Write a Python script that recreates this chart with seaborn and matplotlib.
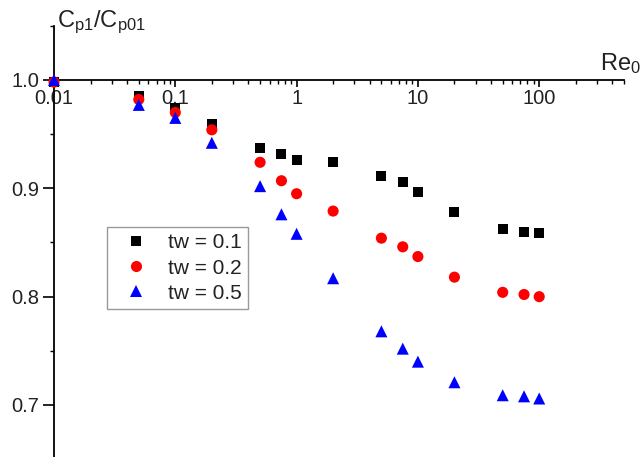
import numpy as np
import pandas as pd
import matplotlib
matplotlib.use("Agg")
import matplotlib.pyplot as plt
import seaborn as sns
from matplotlib.lines import Line2D
from matplotlib.ticker import FixedLocator, FuncFormatter, MultipleLocator

# Reynolds numbers and pressure-coefficient ratios for three wall thicknesses
re0 = [0.01, 0.05, 0.1, 0.2, 0.5, 0.75, 1, 2, 5, 7.5, 10, 20, 50, 75, 100]
cp_tw01 = [0.998, 0.985, 0.974, 0.959, 0.937, 0.932, 0.926, 0.924,
           0.911, 0.906, 0.897, 0.878, 0.862, 0.860, 0.859]
cp_tw02 = [0.998, 0.982, 0.970, 0.954, 0.924, 0.907, 0.895, 0.879,
           0.854, 0.846, 0.837, 0.818, 0.804, 0.802, 0.800]
cp_tw05 = [1.000, 0.977, 0.965, 0.942, 0.902, 0.876, 0.858, 0.817,
           0.768, 0.752, 0.740, 0.721, 0.709, 0.708, 0.706]
series_labels = ["tw = 0.1", "tw = 0.2", "tw = 0.5"]
x_tick_values = [0.01, 0.1, 1, 10, 100]
y_tick_values = [0.7, 0.8, 0.9, 1.0]

colors = {"tw = 0.1": "#000000", "tw = 0.2": "#ff0000", "tw = 0.5": "#0000ff"}
markers = {"tw = 0.1": "s", "tw = 0.2": "o", "tw = 0.5": "^"}
sizes = {"tw = 0.1": 52, "tw = 0.2": 64, "tw = 0.5": 75}

df = pd.concat([
    pd.DataFrame({"Re0": re0, "ratio": vals, "series": lab})
    for vals, lab in zip([cp_tw01, cp_tw02, cp_tw05], series_labels)
], ignore_index=True)

sns.set_theme(style="white")
plt.rcParams["font.family"] = ["Liberation Sans", "DejaVu Sans"]
plt.rcParams["mathtext.fontset"] = "custom"
plt.rcParams["mathtext.rm"] = "Liberation Sans"
plt.rcParams["mathtext.it"] = "Liberation Sans"

text_color = "#222222"

fig = plt.figure(figsize=(6.42, 4.57), dpi=100)
ax = fig.add_axes([54 / 642, 0.0, 570 / 642, 1 - 25.8 / 457])

sns.scatterplot(data=df, x="Re0", y="ratio", hue="series", style="series",
                size="series", palette=colors, markers=markers, sizes=sizes,
                linewidth=0, legend=False, clip_on=False, zorder=3, ax=ax)

ax.set_xscale("log")
ax.set_xlim(0.01, 500)
ax.set_ylim(0.652, 1.05)
ax.set_xlabel("")
ax.set_ylabel("")

# Axis line for Re0 runs through ratio = 1.0
for side in ("top", "right"):
    ax.spines[side].set_visible(False)
ax.spines["bottom"].set_position(("data", 1.0))
for side in ("bottom", "left"):
    ax.spines[side].set_color("black")
    ax.spines[side].set_linewidth(1.3)

ax.xaxis.set_major_locator(FixedLocator(x_tick_values))
ax.xaxis.set_major_formatter(FuncFormatter(lambda v, p: f"{v:g}"))
ax.yaxis.set_major_locator(FixedLocator(y_tick_values))
ax.yaxis.set_minor_locator(MultipleLocator(0.05))
ax.yaxis.set_major_formatter(FuncFormatter(lambda v, p: f"{v:.1f}"))

ax.tick_params(axis="both", which="both", direction="out", color="black",
               labelsize=14.5, labelcolor=text_color)
ax.tick_params(axis="x", which="major", length=5, width=1.2, pad=1.5)
ax.tick_params(axis="x", which="minor", length=3, width=1.0)
ax.tick_params(axis="y", which="major", length=8, width=1.2, pad=2.5)
ax.tick_params(axis="y", which="minor", length=3, width=1.0)
ax.tick_params(axis="x", which="both", bottom=True)
ax.tick_params(axis="y", which="both", left=True)

# Axis titles at the ends of the axes
fig.text(57 / 642, 1 - 22 / 457, r"C$_{\mathrm{p1}}$/C$_{\mathrm{p01}}$",
         ha="left", va="center", fontsize=17, color=text_color)
fig.text(641 / 642, 1 - 64 / 457, r"Re$_{\mathrm{0}}$",
         ha="right", va="center", fontsize=17, color=text_color)

handles = [Line2D([], [], linestyle="none", marker=markers[s], color=colors[s],
                  markeredgewidth=0, markersize=np.sqrt(sizes[s]))
           for s in series_labels]
leg = ax.legend(handles, series_labels, loc="upper left",
                bbox_to_anchor=(107 / 642, 1 - 227 / 457),
                bbox_transform=fig.transFigure, borderaxespad=0,
                fancybox=False, framealpha=1, edgecolor="#999999",
                fontsize=15, handlelength=2.2, handletextpad=0.45,
                borderpad=0.3, labelspacing=0.3)
leg.get_frame().set_linewidth(1.0)
for t in leg.get_texts():
    t.set_color(text_color)

fig.savefig("out.png", dpi=100)
